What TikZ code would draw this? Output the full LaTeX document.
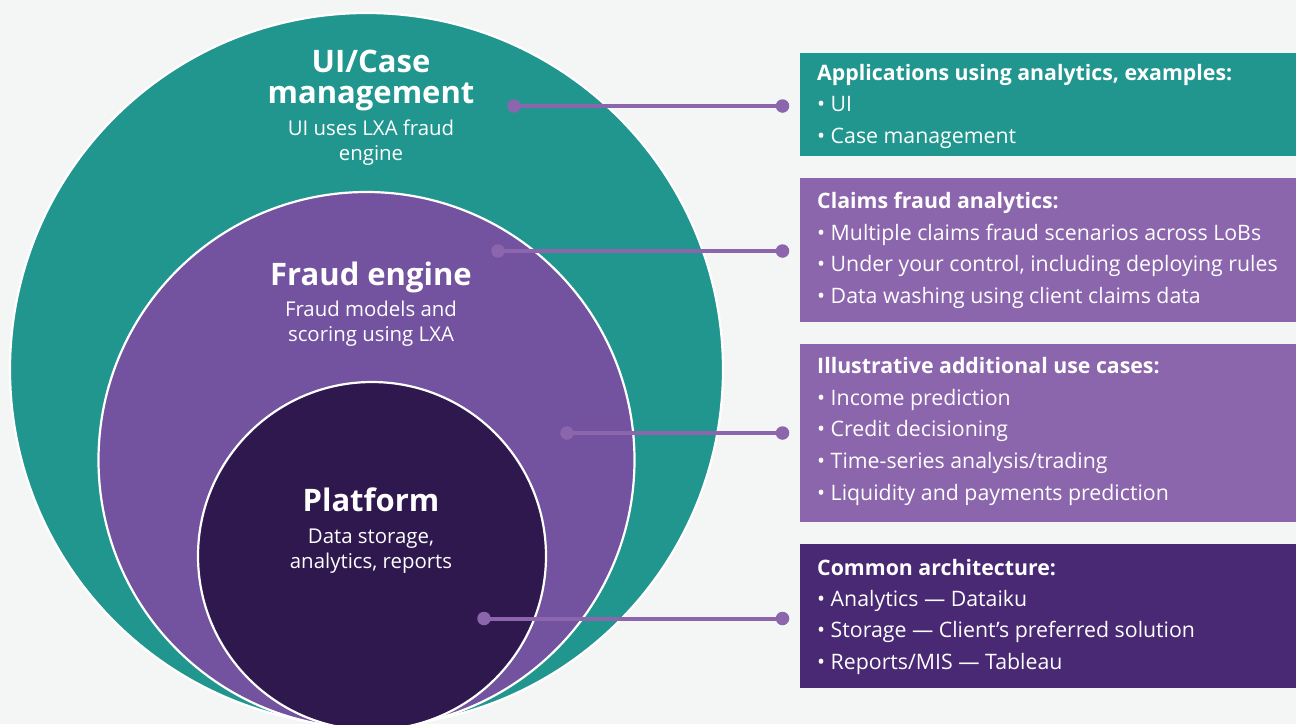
\documentclass[tikz,border=0pt]{standalone}
\usepackage{fontspec}
\setmainfont{Open Sans}
\definecolor{bgc}{RGB}{244,246,245}
\definecolor{tealc}{RGB}{33,150,143}
\definecolor{midpurple}{RGB}{115,82,160}
\definecolor{darkpurple}{RGB}{46,24,78}
\definecolor{panelpurple}{RGB}{140,102,172}
\definecolor{paneldark}{RGB}{73,41,115}
\definecolor{linkc}{RGB}{140,102,172}
\begin{document}
\begin{tikzpicture}[x=1pt,y=-1pt,
  ring/.style={circle, inner sep=0pt, outer sep=0pt, draw=white, line width=2.2pt},
  ttl/.style={font=\fontsize{31}{31}\selectfont\bfseries, text=white, anchor=base, inner sep=0pt},
  sub/.style={font=\fontsize{20.4}{20.4}\selectfont, text=white, anchor=base, inner sep=0pt},
  panel/.style={rectangle, anchor=north west, inner sep=0pt, outer sep=0pt, minimum width=496pt},
  head/.style={font=\fontsize{21.3}{21.3}\selectfont\bfseries, text=white, anchor=base west, inner sep=0pt},
  item/.style={font=\fontsize{21.3}{21.3}\selectfont, text=white, anchor=base west, inner sep=0pt},
  dot/.style={circle, fill=linkc, inner sep=0pt, outer sep=0pt, minimum size=13.5pt},
  link/.style={draw=linkc, line width=4pt}]
\useasboundingbox (0,0) rectangle (1296,724);
\fill[bgc] (0,0) rectangle (1296,724);
\clip (0,0) rectangle (1296,724);

% nested rings
\node[ring, fill=tealc, minimum size=713pt] (outer) at (366.5,369.5) {};
\node[ring, fill=midpurple, minimum size=536pt] (middle) at (366.5,460) {};
\node[ring, fill=darkpurple, minimum size=348pt] (inner) at (372,556) {};

% ring labels
\node[ttl] (t1a) at (371,72) {UI/Case};
\node[ttl] (t1b) at (371,103) {management};
\node[sub] (s1a) at (371,135) {UI uses LXA fraud};
\node[sub] (s1b) at (371,160) {engine};

\node[ttl] (t2) at (371,285) {Fraud engine};
\node[sub] (s2a) at (371,316) {Fraud models and};
\node[sub] (s2b) at (371,341) {scoring using LXA};

\node[ttl] (t3) at (371,511) {Platform};
\node[sub] (s3a) at (371,543) {Data storage,};
\node[sub] (s3b) at (371,568) {analytics, reports};

% panels
\node[panel, fill=tealc, minimum height=103pt] (p1) at (800,53) {};
\node[panel, fill=panelpurple, minimum height=144pt] (p2) at (800,178) {};
\node[panel, fill=panelpurple, minimum height=178pt] (p3) at (800,344) {};
\node[panel, fill=paneldark, minimum height=144pt] (p4) at (800,544) {};

\node[head] (h1) at (817,80) {Applications using analytics, examples:};
\node[item] (i1a) at (817,111.5) {\textbullet\ UI};
\node[item] (i1b) at (817,143.3) {\textbullet\ Case management};

\node[head] (h2) at (817,208.3) {Claims fraud analytics:};
\node[item] (i2a) at (817,240) {\textbullet\ Multiple claims fraud scenarios across LoBs};
\node[item] (i2b) at (817,271.7) {\textbullet\ Under your control, including deploying rules};
\node[item] (i2c) at (817,303.3) {\textbullet\ Data washing using client claims data};

\node[head] (h3) at (817,373.3) {Illustrative additional use cases:};
\node[item] (i3a) at (817,405) {\textbullet\ Income prediction};
\node[item] (i3b) at (817,436.7) {\textbullet\ Credit decisioning};
\node[item] (i3c) at (817,468.3) {\textbullet\ Time-series analysis/trading};
\node[item] (i3d) at (817,500) {\textbullet\ Liquidity and payments prediction};

\node[head] (h4) at (817,575) {Common architecture:};
\node[item] (i4a) at (817,606) {\textbullet\ Analytics — Dataiku};
\node[item] (i4b) at (817,637.3) {\textbullet\ Storage — Client’s preferred solution};
\node[item] (i4c) at (817,669.3) {\textbullet\ Reports/MIS — Tableau};

% connectors from each ring to its panel
\node[dot] (a1) at (514,106) {};
\node[dot] (b1) at (782.5,106) {};
\node[dot] (a2) at (498,251) {};
\node[dot] (b2) at (782.5,251) {};
\node[dot] (a3) at (567,433) {};
\node[dot] (b3) at (782.5,433) {};
\node[dot] (a4) at (484,618.5) {};
\node[dot] (b4) at (782.5,618.5) {};
\draw[link] (a1.center) -- (b1.center);
\draw[link] (a2.center) -- (b2.center);
\draw[link] (a3.center) -- (b3.center);
\draw[link] (a4.center) -- (b4.center);
\end{tikzpicture}
\end{document}
